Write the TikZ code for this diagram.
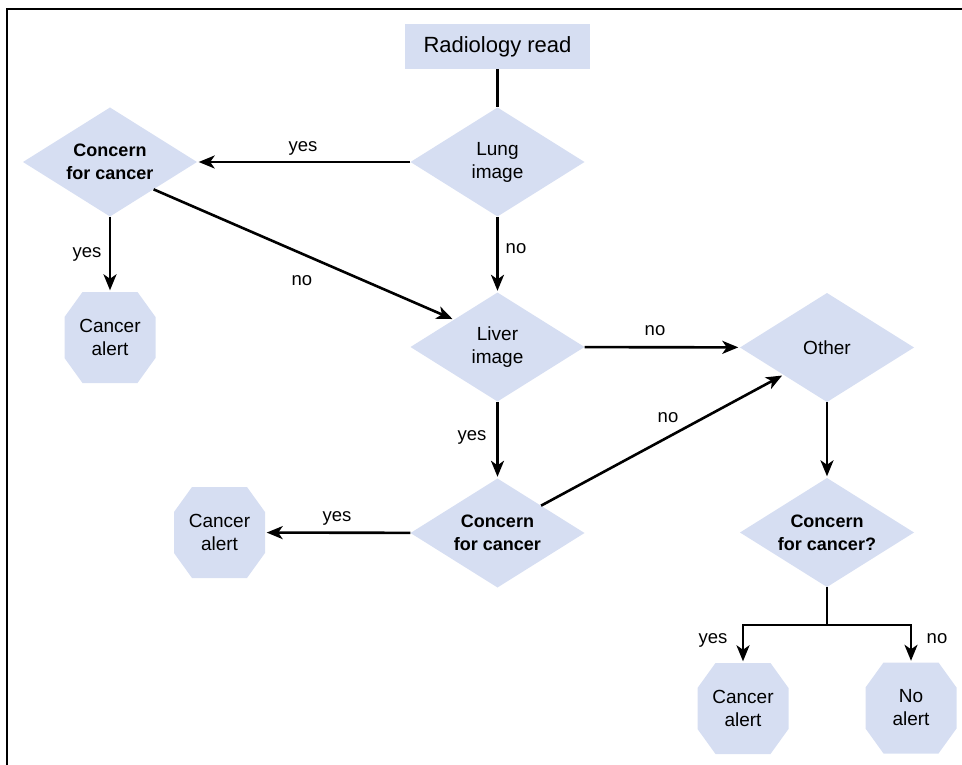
\documentclass[tikz,border=0pt]{standalone}
\usepackage{fontspec}
\setmainfont{Liberation Sans}
\usetikzlibrary{arrows.meta,calc}
\definecolor{boxfill}{RGB}{214,222,242}
\tikzset{
  dmd/.style={minimum width=174pt, minimum height=109pt, inner sep=0pt, align=center,
    font=\fontsize{19}{23}\selectfont,
    path picture={\fill[boxfill] (path picture bounding box.north) -- (path picture bounding box.east)
      -- (path picture bounding box.south) -- (path picture bounding box.west) -- cycle;}},
  bdmd/.style={dmd, font=\bfseries\fontsize{18}{23}\selectfont},
  oct/.style={minimum width=91pt, minimum height=91pt, inner sep=0pt, align=center,
    font=\fontsize{19}{23}\selectfont,
    path picture={\fill[boxfill]
      ([xshift=18pt]path picture bounding box.north west) -- ([xshift=-18pt]path picture bounding box.north east)
      -- ([yshift=-25pt]path picture bounding box.north east) -- ([yshift=25pt]path picture bounding box.south east)
      -- ([xshift=-18pt]path picture bounding box.south east) -- ([xshift=18pt]path picture bounding box.south west)
      -- ([yshift=25pt]path picture bounding box.south west) -- ([yshift=-25pt]path picture bounding box.north west) -- cycle;}},
  startbox/.style={fill=boxfill, minimum width=185pt, minimum height=45pt, inner sep=0pt,
    font=\fontsize{22}{26}\selectfont},
  conn/.style={line width=2.6pt},
  arr/.style={conn, -{Stealth[length=16pt,width=13pt,inset=4.5pt]}, shorten >=1.5pt},
  lbl/.style={anchor=base, inner sep=0pt, font=\fontsize{18.5}{22}\selectfont},
}
\begin{document}
\begin{tikzpicture}[x=1pt,y=-1pt]
\useasboundingbox (0,0) rectangle (962,765);
\draw[line width=2pt] (6.5,765) -- (6.5,9) -- (962,9);

\node[startbox] (rr) at (497.5,46.5) {Radiology read};
\node[dmd] (lung) at (497.5,162) {Lung\\image};
\node[bdmd] (c1) at (110,162) {Concern\\for cancer};
\node[oct] (ca1) at (110,337.5) {Cancer\\alert};
\node[dmd] (liver) at (497.5,347) {Liver\\image};
\node[dmd] (other) at (827,347.5) {Other};
\node[bdmd] (c2) at (497.5,533) {Concern\\for cancer};
\node[oct] (ca2) at (219.5,532.5) {Cancer\\alert};
\node[bdmd] (c3) at (827,532.5) {Concern\\for cancer?};
\node[oct] (ca3) at (743,708.5) {Cancer\\alert};
\node[oct] (na) at (911,708) {No\\alert};
\coordinate (split) at (827,625);

\draw[conn] (rr) -- (lung);
\draw[arr] (lung) -- (c1);
\draw[arr] (lung) -- (liver);
\draw[arr] (c1) -- (ca1);
\draw[arr] ($(c1.east)!0.5!(c1.south)$) -- ($(liver.west)!0.5!(liver.north)$);
\draw[arr] (liver) -- (other);
\draw[arr] (liver) -- (c2);
\draw[arr] (c2) -- (ca2);
\draw[arr] ($(c2.east)!0.5!(c2.north)$) -- ($(other.west)!0.5!(other.south)$);
\draw[arr] (other) -- (c3);
\draw[conn] (c3) -- (split);
\draw[arr] (split) -| (ca3);
\draw[arr] (split) -| (na);

\node[lbl] (l1) at (303,152) {yes};
\node[lbl] (l2) at (302,285) {no};
\node[lbl] (l3) at (87,257) {yes};
\node[lbl] (l4) at (516,254) {no};
\node[lbl] (l5) at (655,335) {no};
\node[lbl] (l6) at (668,422) {no};
\node[lbl] (l7) at (472,440) {yes};
\node[lbl] (l8) at (337,521) {yes};
\node[lbl] (l9) at (713,643) {yes};
\node[lbl] (l10) at (937,643) {no};
\end{tikzpicture}
\end{document}
